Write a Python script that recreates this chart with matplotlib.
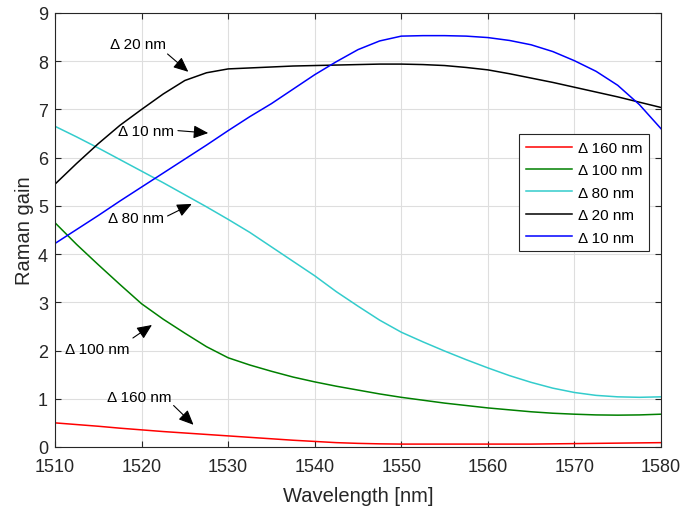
import numpy as np
import matplotlib
matplotlib.use("Agg")
import matplotlib.pyplot as plt

plt.rcParams['font.family'] = ['Liberation Sans', 'DejaVu Sans']

# longitud de onda (nm)
wl = [1510, 1512.5, 1515, 1517.5, 1520, 1522.5, 1525, 1527.5, 1530, 1532.5,
      1535, 1537.5, 1540, 1542.5, 1545, 1547.5, 1550, 1552.5, 1555, 1557.5,
      1560, 1562.5, 1565, 1567.5, 1570, 1572.5, 1575, 1577.5, 1580]

g160 = [0.50, 0.465, 0.43, 0.39, 0.355, 0.32, 0.29, 0.26, 0.23, 0.20,
        0.17, 0.14, 0.115, 0.09, 0.075, 0.065, 0.06, 0.06, 0.06, 0.06,
        0.06, 0.06, 0.06, 0.065, 0.07, 0.075, 0.08, 0.085, 0.09]
g100 = [4.65, 4.20, 3.78, 3.37, 2.97, 2.65, 2.36, 2.08, 1.85, 1.70,
        1.57, 1.45, 1.35, 1.26, 1.18, 1.10, 1.03, 0.97, 0.91, 0.86,
        0.81, 0.77, 0.73, 0.70, 0.68, 0.665, 0.66, 0.665, 0.68]
g80 = [6.65, 6.43, 6.20, 5.96, 5.72, 5.48, 5.23, 4.98, 4.72, 4.45,
       4.15, 3.85, 3.55, 3.22, 2.92, 2.63, 2.38, 2.18, 1.99, 1.81,
       1.64, 1.48, 1.34, 1.22, 1.13, 1.07, 1.04, 1.03, 1.04]
g20 = [5.45, 5.88, 6.29, 6.67, 7.00, 7.32, 7.60, 7.76, 7.84, 7.86,
       7.88, 7.90, 7.91, 7.92, 7.93, 7.94, 7.94, 7.93, 7.91, 7.87,
       7.82, 7.74, 7.65, 7.56, 7.46, 7.36, 7.26, 7.15, 7.04]
g10 = [4.22, 4.51, 4.80, 5.10, 5.39, 5.68, 5.97, 6.26, 6.56, 6.85,
       7.12, 7.42, 7.72, 7.99, 8.24, 8.42, 8.52, 8.53, 8.53, 8.52,
       8.49, 8.43, 8.34, 8.20, 8.01, 7.79, 7.50, 7.10, 6.60]

series = [(g160, '#ff0000', '\u0394 160 nm'),
          (g100, '#008000', '\u0394 100 nm'),
          (g80, '#33cccc', '\u0394 80 nm'),
          (g20, '#000000', '\u0394 20 nm'),
          (g10, '#0000ff', '\u0394 10 nm')]

# etiquetas con flecha: texto (x izq, y), cola, punta
notas = [('\u0394 20 nm', (1516.3, 8.36), (1523.0, 8.15), (1525.4, 7.78)),
         ('\u0394 10 nm', (1517.3, 6.56), (1524.2, 6.56), (1527.7, 6.51)),
         ('\u0394 80 nm', (1516.1, 4.75), (1523.0, 4.79), (1525.8, 5.04)),
         ('\u0394 100 nm', (1511.1, 2.03), (1519.0, 2.26), (1521.2, 2.53)),
         ('\u0394 160 nm', (1516.0, 1.04), (1523.7, 0.86), (1526.0, 0.46))]

fig = plt.figure(figsize=(6.84, 5.10), dpi=100)
ax = fig.add_axes([0.0804, 0.1216, 0.886, 0.851])

for y, c, lab in series:
    ax.plot(wl, y, color=c, lw=1.1, label=lab)

for txt, pos, tail, tip in notas:
    ax.text(pos[0], pos[1], txt, fontsize=11, va='center', ha='left')
    ax.annotate('', xy=tip, xytext=tail,
                arrowprops=dict(arrowstyle='-|>,head_length=0.9,head_width=0.4',
                                color='black', lw=0.8, shrinkA=0, shrinkB=0))

ax.set_xlim(1510, 1580)
ax.set_ylim(0, 9)
ax.set_xticks(np.arange(1510, 1581, 10))
ax.set_yticks(np.arange(0, 10, 1))
ax.grid(True, color='#dedede', lw=0.8)
ax.set_axisbelow(True)
ax.tick_params(direction='in', top=True, right=True, labelsize=13,
               colors='#262626', length=4)
ax.tick_params(axis='x', pad=8)
ax.tick_params(axis='y', pad=5)
for s in ax.spines.values():
    s.set_color('#262626')
    s.set_linewidth(0.8)
ax.set_xlabel('Wavelength [nm]', fontsize=14.5, color='#262626', labelpad=8)
ax.set_ylabel('Raman gain', fontsize=14.5, color='#262626', labelpad=3)

leg = ax.legend(loc='upper right', bbox_to_anchor=(0.9807, 0.721), fontsize=11,
                handlelength=3.0, handletextpad=0.4, fancybox=False,
                edgecolor='#262626', framealpha=1, borderpad=0.45,
                labelspacing=0.55, borderaxespad=0)
leg.get_frame().set_linewidth(0.8)

fig.savefig('out.png', dpi=100)
